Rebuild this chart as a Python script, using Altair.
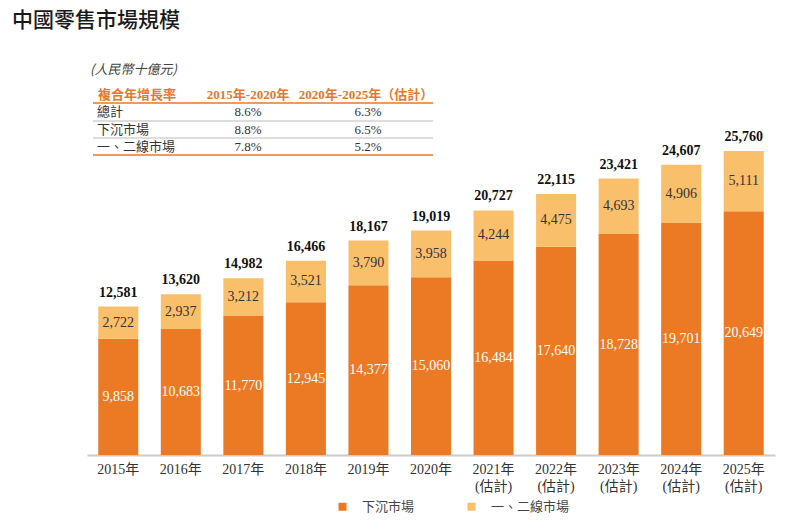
import altair as alt
import pandas as pd

# ---------------- data ----------------
years = ["2015年", "2016年", "2017年", "2018年", "2019年", "2020年",
         "2021年(估計)", "2022年(估計)", "2023年(估計)", "2024年(估計)", "2025年(估計)"]
lower_tier = [9858, 10683, 11770, 12945, 14377, 15060, 16484, 17640, 18728, 19701, 20649]
upper_tier = [2722, 2937, 3212, 3521, 3790, 3958, 4244, 4475, 4693, 4906, 5111]
totals = [12581, 13620, 14982, 16466, 18167, 19019, 20727, 22115, 23421, 24607, 25760]
series = ["下沉市場", "一、二線市場"]
colors = ["#EC7A24", "#F9BF6B"]

title_text = "中國零售市場規模"
unit_text = "(人民幣十億元)"
table_header = ["複合年增長率", "2015年-2020年", "2020年-2025年（估計）"]
table_rows = ["總計", "下沉市場", "一、二線市場"]
cagr_2015_2020 = ["8.6%", "8.8%", "7.8%"]
cagr_2020_2025 = ["6.3%", "6.5%", "5.2%"]

# ---------------- frames ----------------
n = len(years)
long = pd.DataFrame({
    "year": years * 2,
    "series": [series[0]] * n + [series[1]] * n,
    "value": lower_tier + upper_tier,
    "ord": [0] * n + [1] * n,
})
tot = pd.DataFrame({"year": years, "total": totals})

SERIF = "'Liberation Serif', 'Noto Sans CJK TC'"
SANS = "'Noto Sans CJK TC'"
ORANGE = "#E5782C"

x_enc = alt.X(
    "year:N", sort=years,
    scale=alt.Scale(paddingInner=0.36, paddingOuter=0.18),
    axis=alt.Axis(
        title=None, labelAngle=0, ticks=False,
        labelFont=SERIF, labelFontSize=14, labelColor="#333",
        labelPadding=7, labelLineHeight=17,
        domainColor="#CCCCCC", domainWidth=2,
        labelExpr="indexof(datum.value,'(')>0 ? [slice(datum.value,0,indexof(datum.value,'(')), slice(datum.value,indexof(datum.value,'('))] : datum.value",
    ),
)
y_scale = alt.Scale(domain=[0, 37880])

base = alt.Chart(long).transform_stack(
    stack="value", groupby=["year"], as_=["y0", "y1"],
    sort=[alt.SortField("ord", order="ascending")],
).transform_calculate(mid="(datum.y0 + datum.y1) / 2")

bars = base.mark_bar().encode(
    x=x_enc,
    y=alt.Y("y0:Q", scale=y_scale, axis=None),
    y2="y1:Q",
    color=alt.Color(
        "series:N",
        scale=alt.Scale(domain=series, range=colors),
        legend=alt.Legend(
            orient="none", legendX=249, legendY=492, direction="horizontal",
            title=None, symbolType="square", symbolSize=64,
            labelFont=SANS, labelFontSize=13, labelColor="#444",
            columnPadding=50, labelOffset=13, padding=0,
        ),
    ),
)

seg_text = base.mark_text(font=SERIF, fontSize=14, baseline="middle").encode(
    x=alt.X("year:N", sort=years),
    y=alt.Y("mid:Q", scale=y_scale),
    text=alt.Text("value:Q", format=",d"),
    color=alt.condition("datum.ord == 0", alt.value("white"), alt.value("#333333")),
)

tot_text = alt.Chart(tot).mark_text(
    font=SERIF, fontSize=14, fontWeight="bold", baseline="middle", dy=-14, color="#111"
).encode(
    x=alt.X("year:N", sort=years),
    y=alt.Y("total:Q", scale=y_scale),
    text=alt.Text("total:Q", format=",d"),
)


def label(txt, x, y, **kw):
    return alt.Chart(alt.Data(values=[{}])).mark_text(baseline="middle", **kw).encode(
        x=alt.value(x), y=alt.value(y), text=alt.value(txt)
    )


def hline(y, color, width):
    return alt.Chart(alt.Data(values=[{}])).mark_rule(color=color, strokeWidth=width).encode(
        x=alt.value(6), x2=alt.value(346), y=alt.value(y)
    )


ann = [
    label(title_text, -75, 13, align="left", font=SANS, fontSize=21, fontWeight=500, color="#1A1A1A"),
    label(unit_text, 3, 62, align="left", font=SANS, fontSize=13, fontStyle="italic", color="#444"),
    label(table_header[0], 11, 87, align="left", font=SANS, fontSize=13, fontWeight="bold", color=ORANGE),
    label(table_header[1], 161, 87, align="center", font=SERIF, fontSize=13, fontWeight="bold", color=ORANGE),
    label(table_header[2], 279, 87, align="center", font=SERIF, fontSize=13, fontWeight="bold", color=ORANGE),
    hline(95, ORANGE, 1.5),
    hline(113, "#BBBBBB", 1),
    hline(130, "#BBBBBB", 1),
    hline(147, ORANGE, 1.5),
]
row_y = [104, 121.5, 138.5]
for i in range(3):
    ann.append(label(table_rows[i], 10, row_y[i], align="left", font=SANS, fontSize=13, color="#333"))
    ann.append(label(cagr_2015_2020[i], 161, row_y[i], align="center", font=SERIF, fontSize=13, color="#333"))
    ann.append(label(cagr_2020_2025[i], 281, row_y[i], align="center", font=SERIF, fontSize=13, color="#333"))

chart = alt.layer(bars, seg_text, tot_text, *ann).properties(
    width=688, height=447,
    padding={"left": 79, "right": 17, "top": 0, "bottom": 61},
    autosize=alt.AutoSizeParams(type="none"),
).configure_view(stroke=None)

chart.save("out.html", embed_options={"renderer": "svg", "actions": False})
